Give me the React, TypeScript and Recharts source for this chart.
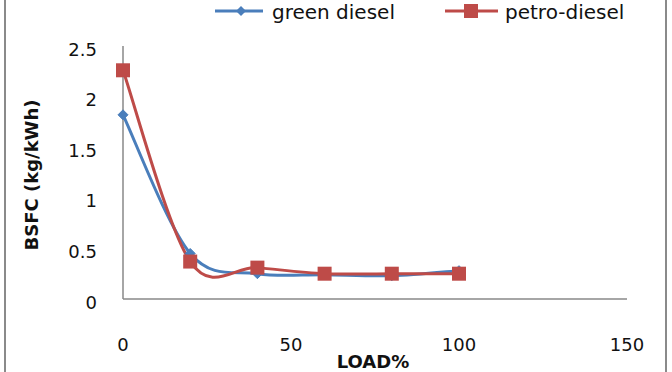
import React from "react";
import { LineChart, Line, XAxis, YAxis, Legend } from "recharts";

const loads = [0, 20, 40, 60, 80, 100];
const greenDiesel = [1.82, 0.45, 0.25, 0.24, 0.23, 0.28];
const petroDiesel = [2.26, 0.37, 0.31, 0.25, 0.25, 0.25];
const xTicks = [0, 50, 100, 150];
const yTicks = [0, 0.5, 1, 1.5, 2, 2.5];
const seriesNames = ["green diesel", "petro-diesel"];

const data = loads.map((l, i) => ({ load: l, green: greenDiesel[i], petro: petroDiesel[i] }));

const BLUE = "#4A7EBB";
const RED = "#BE4B48";
const FONT = "DejaVu Sans";

const smooth = (context: any) => {
  let pts: number[][] = [];
  return {
    areaStart() {},
    areaEnd() {},
    lineStart() {
      pts = [];
    },
    lineEnd() {
      const n = pts.length;
      if (!n) return;
      context.moveTo(pts[0][0], pts[0][1]);
      const t = 1 / 6;
      for (let i = 0; i < n - 1; i++) {
        const p0 = pts[Math.max(0, i - 1)];
        const p1 = pts[i];
        const p2 = pts[i + 1];
        const p3 = pts[Math.min(n - 1, i + 2)];
        context.bezierCurveTo(
          p1[0] + (p2[0] - p0[0]) * t,
          p1[1] + (p2[1] - p0[1]) * t,
          p2[0] - (p3[0] - p1[0]) * t,
          p2[1] - (p3[1] - p1[1]) * t,
          p2[0],
          p2[1]
        );
      }
    },
    point(x: number, y: number) {
      pts.push([+x, +y]);
    },
  };
};

const Diamond = (props: any) => {
  const { cx, cy, index } = props;
  if (cx == null || cy == null) return <g key={index} />;
  const r = 5;
  return (
    <path
      key={index}
      d={`M${cx},${cy - r}L${cx + r},${cy}L${cx},${cy + r}L${cx - r},${cy}Z`}
      fill={BLUE}
      stroke={BLUE}
    />
  );
};

const Square = (props: any) => {
  const { cx, cy, index } = props;
  if (cx == null || cy == null) return <g key={index} />;
  const s = 14;
  return <rect key={index} x={cx - s / 2} y={cy - s / 2} width={s} height={s} fill={RED} />;
};

const XTick = (props: any) => {
  const { x, y, payload } = props;
  return (
    <text x={x} y={y + 45} textAnchor="middle" dominantBaseline="central" fontFamily={FONT} fontSize={18} fill="#111">
      {payload.value}
    </text>
  );
};

const YTick = (props: any) => {
  const { x, y, payload } = props;
  return (
    <text x={x - 26} y={y + 3} textAnchor="end" dominantBaseline="central" fontFamily={FONT} fontSize={18} fill="#111">
      {payload.value}
    </text>
  );
};

const LegendContent = () => (
  <div style={{ position: "relative", height: 0 }}>
    <svg width={672} height={30} style={{ position: "absolute", left: 0, top: 0 }}>
      <line x1={215} y1={11} x2={263} y2={11} stroke={BLUE} strokeWidth={3} />
      <path d="M241,6L246,11L241,16L236,11Z" fill={BLUE} />
      <text x={272} y={19} fontFamily={FONT} fontSize={20} fill="#111">{seriesNames[0]}</text>
      <line x1={445} y1={11} x2={498} y2={11} stroke={RED} strokeWidth={3} />
      <rect x={464} y={4} width={14} height={14} fill={RED} />
      <text x={505} y={19} fontFamily={FONT} fontSize={20} fill="#111">{seriesNames[1]}</text>
    </svg>
  </div>
);

export default function App() {
  return (
    <div style={{ position: "absolute", left: 0, top: 0, width: 672, height: 372, background: "#fff", overflow: "hidden" }}>
      <div style={{ position: "absolute", left: 4, top: 0, width: 2, height: 372, background: "#8a8a8a" }} />
      <div style={{ position: "absolute", left: 665, top: 0, width: 2, height: 372, background: "#8a8a8a" }} />
      <LineChart width={672} height={372} data={data} margin={{ top: 46, right: 45, bottom: 13, left: 63 }}>
        <XAxis
          dataKey="load"
          type="number"
          domain={[0, 150]}
          ticks={xTicks}
          tick={<XTick />}
          tickLine={false}
          tickSize={0}
          tickMargin={0}
          axisLine={{ stroke: "#888", strokeWidth: 1.5 }}
          height={60}
          interval={0}
        />
        <YAxis
          type="number"
          domain={[0, 2.5]}
          ticks={yTicks}
          tick={<YTick />}
          tickLine={false}
          tickSize={0}
          tickMargin={0}
          axisLine={{ stroke: "#888", strokeWidth: 1.5 }}
          width={60}
          interval={0}
        />
        <Legend
          verticalAlign="top"
          content={<LegendContent />}
          wrapperStyle={{ position: "absolute", left: 0, top: 0, width: 672, height: 0, lineHeight: 0 }}
        />
        <Line dataKey="green" name={seriesNames[0]} type={smooth as any} stroke={BLUE} strokeWidth={3} dot={<Diamond />} activeDot={false} isAnimationActive={false} />
        <Line dataKey="petro" name={seriesNames[1]} type={smooth as any} stroke={RED} strokeWidth={3} dot={<Square />} activeDot={false} isAnimationActive={false} />
        <text x={31} y={175} transform="rotate(-90 31 175)" textAnchor="middle" dominantBaseline="central" fontFamily={FONT} fontSize={18} fontWeight="bold" fill="#111">
          BSFC (kg/kWh)
        </text>
        <text x={373} y={368} textAnchor="middle" fontFamily={FONT} fontSize={18} fontWeight="bold" fill="#111">
          LOAD%
        </text>
      </LineChart>
    </div>
  );
}
